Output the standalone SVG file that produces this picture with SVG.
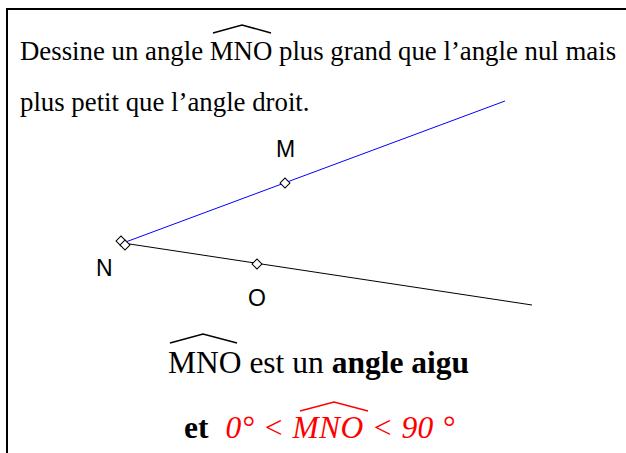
<svg xmlns="http://www.w3.org/2000/svg" width="626" height="453" viewBox="0 0 626 453">
<style>
.t{font-family:"Liberation Serif","Times New Roman",serif;fill:#000}
.lbl{font-family:"Liberation Sans",Arial,sans-serif;font-size:23px;fill:#000}
.hat{fill:none;stroke:#000;stroke-width:1.5}
.mk{fill:#fff;stroke:#000;stroke-width:1}
</style>
<rect x="7" y="9" width="640" height="460" fill="#fff" stroke="#000" stroke-width="2"/>
<text class="t" x="20" y="60" font-size="26.8">Dessine un angle MNO plus grand que l’angle nul mais</text>
<path class="hat" d="M213,33 L242,25 L271,33"/>
<text class="t" x="20" y="111" font-size="26.8">plus petit que l’angle droit.</text>
<g id="connectors">
<line x1="123" y1="243" x2="505" y2="101" stroke="#0000ff" stroke-width="1"/>
<line x1="123" y1="243" x2="532" y2="305" stroke="#000" stroke-width="1"/>
</g>
<g id="N">
<rect class="mk" x="117.5" y="237.5" width="7" height="7" transform="rotate(45 121 241)"/>
<rect class="mk" x="121.5" y="241.5" width="7" height="7" transform="rotate(45 125 245)"/>
<text class="lbl" x="96" y="276">N</text>
</g>
<g id="M">
<rect class="mk" x="281.5" y="179.5" width="7" height="7" transform="rotate(45 285 183)"/>
<text class="lbl" x="276" y="157">M</text>
</g>
<g id="O">
<rect class="mk" x="253.5" y="260.5" width="7" height="7" transform="rotate(45 257 264)"/>
<text class="lbl" x="248" y="306">O</text>
</g>
<text class="t" x="168" y="373" font-size="31.5">MNO est un <tspan font-weight="bold">angle aigu</tspan></text>
<path class="hat" d="M170,343 L203,334 L237,343"/>
<text class="t" x="184" y="438" font-size="31.5"><tspan font-weight="bold">et</tspan><tspan fill="#ff0000" font-style="italic" dx="17" textLength="229">0° &lt; MNO &lt; 90 °</tspan></text>
<path d="M300,411 L334,402 L368,411" fill="none" stroke="#ff0000" stroke-width="1.5"/>
</svg>
